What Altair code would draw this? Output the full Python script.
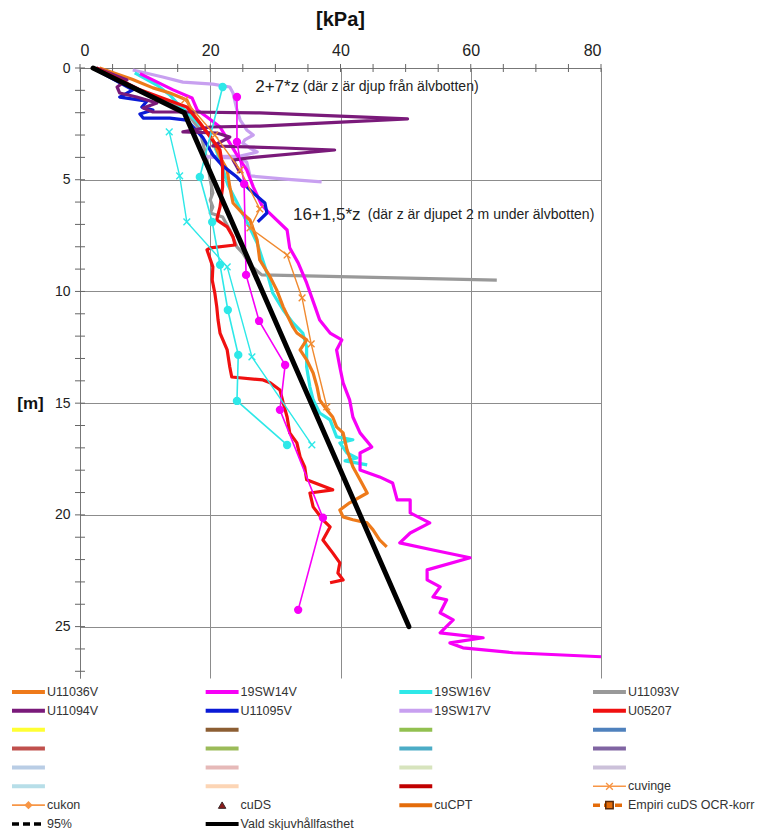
import altair as alt
import pandas as pd

NARROW = "Liberation Sans Narrow, Arial Narrow, Liberation Sans, Arial, sans-serif"
SANS = "Liberation Sans, Arial, sans-serif"

# ---------------------------------------------------------------
# Undrained shear strength profiles, cu [kPa] against depth z [m]
# ---------------------------------------------------------------
u11036v_cu = [3.0, 8.0, 11.2, 13.8, 16.4, 17.3, 18.9, 20.4, 21.5, 22.6, 23.0, 23.5, 24.9, 26.1,
              27.2, 27.6, 29.2, 30.2, 31.2, 32.7, 33.3, 34.8, 33.8, 34.8, 35.8, 36.4, 36.8, 37.9,
              38.8, 39.4, 40.4, 41.0, 41.9, 43.0, 44.1, 41.4, 39.9, 40.4, 41.9, 44.1, 45.0, 46.0, 47.1]
u11036v_z = [0.0, 0.5, 0.89, 1.12, 1.43, 2.01, 2.64, 3.22, 3.98, 4.56, 5.32, 6.04, 6.49, 6.80,
             7.70, 8.59, 9.35, 9.93, 10.69, 11.59, 11.86, 12.17, 12.62, 13.06, 13.65, 14.27, 14.85, 15.30,
             15.62, 16.06, 16.33, 17.09, 17.85, 18.43, 19.02, 19.46, 19.78, 20.09, 20.22, 20.36, 20.67, 21.12, 21.43]

sw14v_cu = [9.2, 14.3, 17.2, 18.0, 19.5, 21.5, 23.0, 24.6, 25.6, 26.6, 27.9, 28.9, 31.8, 32.2,
            33.5, 34.8, 36.1, 36.8, 38.4, 40.2, 39.4, 39.9, 40.4, 41.4, 41.9, 43.0, 44.8, 43.0,
            43.0, 46.0, 48.0, 48.7, 50.7, 50.7, 53.7, 50.7, 49.1, 54.2, 59.9, 53.3, 53.3, 55.3,
            54.2, 56.3, 55.3, 57.3, 55.3, 61.9, 56.8, 58.8, 66.5, 80.0]
sw14v_z = [0.25, 0.98, 1.34, 1.88, 2.19, 2.64, 3.36, 4.12, 4.56, 5.32, 6.13, 6.44, 7.25, 8.05,
           8.72, 9.62, 10.69, 11.28, 11.86, 12.17, 12.62, 13.38, 14.09, 14.85, 15.62, 16.33, 16.96, 17.23,
           17.99, 18.30, 18.57, 19.33, 19.33, 19.91, 20.36, 20.81, 21.25, 21.57, 21.92, 22.46, 22.91, 23.22,
           23.67, 23.80, 24.38, 24.70, 25.28, 25.50, 25.73, 25.95, 26.17, 26.35]

sw16v_cu = [8.4, 11.8, 13.8, 14.9, 17.7, 20.0, 21.5, 22.7, 24.3, 26.1, 27.2, 28.9, 29.6, 31.2,
            32.7, 34.2, 34.8, 34.8, 35.3, 35.8, 36.8, 38.4, 39.4, 41.9, 39.9, 41.0, 42.5, 40.7, 44.1]
sw16v_z = [0.22, 0.76, 1.21, 1.57, 2.33, 3.00, 4.12, 5.23, 6.13, 7.16, 7.83, 9.35, 10.07, 10.83,
           11.41, 11.86, 12.48, 13.38, 14.27, 14.85, 15.44, 15.75, 16.51, 16.64, 16.78, 17.23, 17.45, 17.58, 17.76]

u11093v_cu = [2.3, 9.2, 16.1, 18.4, 19.5, 20.0, 20.4, 20.0, 20.4, 20.0, 21.9, 23.0, 24.1, 25.0, 26.1, 27.9, 64.0]
u11093v_z = [0.0, 0.98, 1.88, 2.77, 4.12, 5.01, 5.59, 5.91, 6.22, 6.49, 6.67, 7.25, 8.01, 8.28, 8.81, 9.26, 9.49]

u11094v_cu = [2.5, 7.2, 5.7, 6.1, 8.7, 11.8, 9.7, 11.2, 16.4, 27.6, 50.3, 27.6, 20.0, 15.8,
              21.0, 23.0, 20.4, 31.2, 39.1, 25.6, 23.5, 24.1, 24.6]
u11094v_z = [0.0, 0.54, 0.85, 1.12, 1.30, 1.57, 1.79, 1.97, 1.97, 2.01, 2.28, 2.60, 2.64, 2.86,
             2.91, 3.09, 3.49, 3.58, 3.67, 4.03, 4.12, 4.43, 4.70]

u11095v_cu = [2.0, 8.1, 6.1, 10.3, 9.5, 11.2, 9.2, 9.7, 13.8, 16.4, 18.9, 20.4, 21.9, 24.1, 25.0, 26.6, 28.4, 28.7, 27.3]
u11095v_z = [0.0, 0.98, 1.30, 1.48, 1.75, 1.88, 2.06, 2.24, 2.24, 2.33, 3.13, 3.89, 4.38, 4.88, 5.15, 5.59, 6.04, 6.49, 6.89]

sw17v_cu = [8.1, 12.7, 15.8, 20.4, 23.0, 23.5, 24.1, 24.6, 25.6, 26.6, 25.3, 25.0, 26.1, 27.2,
            24.6, 18.9, 24.6, 25.6, 26.1, 31.5, 37.1]
sw17v_z = [0.09, 0.40, 0.63, 0.72, 0.85, 1.12, 1.88, 2.33, 2.77, 3.00, 3.22, 3.36, 3.58, 3.76,
           3.94, 3.98, 4.03, 4.21, 4.83, 4.97, 5.10]

u05207_cu = [2.5, 9.0, 16.4, 18.4, 20.0, 21.5, 21.9, 21.9, 21.5, 21.0, 22.6, 23.5, 23.8, 20.0, 19.5,
             20.4, 20.3, 20.7, 21.0, 21.2, 21.5, 22.6, 23.0, 23.3, 28.1, 29.2, 30.7, 31.2, 31.8, 32.2,
             33.3, 33.8, 34.5, 34.8, 38.8, 35.3, 35.8, 37.3, 38.4, 37.3, 38.8, 39.9, 39.6, 40.4, 38.4]
u05207_z = [0.0, 0.95, 1.75, 2.46, 3.09, 3.67, 4.43, 5.32, 6.22, 6.80, 7.11, 7.56, 7.92, 8.05, 8.14,
            8.90, 9.49, 10.07, 10.69, 11.28, 11.86, 12.62, 13.38, 13.83, 13.96, 14.09, 14.41, 14.99, 15.62, 16.33,
            16.78, 17.40, 17.85, 18.43, 18.88, 19.02, 19.64, 20.22, 20.54, 21.12, 21.70, 22.15, 22.60, 22.91, 23.04]

# point tests (cone and vane), drawn with thin lines and markers
sw16v_kon_cu = [21.9, 18.4, 20.3, 21.5, 22.7, 24.3, 24.1, 31.8]
sw16v_kon_z = [0.85, 4.88, 6.89, 8.81, 10.83, 12.84, 14.90, 16.87]

sw16v_vinge_cu = [13.7, 15.3, 16.4, 22.6, 26.4, 35.6]
sw16v_vinge_z = [2.86, 4.83, 6.89, 8.90, 12.93, 16.87]

sw14v_kon_cu = [24.1, 24.1, 25.2, 25.5, 27.5, 31.5, 30.7, 37.3, 33.5]
sw14v_kon_z = [1.30, 3.31, 5.19, 9.26, 11.32, 13.29, 15.30, 20.13, 24.25]

u11036v_vinge_cu = [16.1, 20.7, 24.6, 27.6, 26.1, 31.8, 34.1, 35.5, 37.9]
u11036v_vinge_z = [1.43, 3.00, 4.56, 6.31, 7.16, 8.37, 10.29, 12.35, 15.17]

# chosen design strength: 2+7*z down to 2 m, then 16+1,5*(z-2)
vald_cu = [2.0, 16.0, 50.5]
vald_z = [0.0, 2.0, 25.0]

# formula annotations
formula_text = ["2+7*z", "16+1,5*z"]
formula_cu = [26.9, 32.7]
formula_z = [0.85, 6.58]
note_text = ["(där z är djup från älvbotten)", "(där z är djupet 2 m under älvbotten)"]
note_cu = [34.2, 44.2]
note_z = [0.85, 6.58]

# axis ticks
x_major = [0, 20, 40, 60, 80]
x_minor = list(range(0, 81, 5))
y_major = [0, 5, 10, 15, 20, 25]
y_minor = list(range(0, 28))

# legend entries, row by row in four columns
leg_labels = ["U11036V", "19SW14V", "19SW16V", "U11093V",
              "U11094V", "U11095V", "19SW17V", "U05207",
              "", "", "", "",
              "", "", "", "",
              "", "", "", "",
              "", "", "", "cuvinge",
              "cukon", "cuDS", "cuCPT", "Empiri cuDS OCR-korr",
              "95%", "Vald skjuvhållfasthet"]
leg_colors = ["#EE7A1A", "#F700F7", "#2EE8E8", "#999999",
              "#7A1A7A", "#0A1AD6", "#C8A0F0", "#F01010",
              "#FFFF33", "#8C5E33", "#92C050", "#4F81BD",
              "#C0504D", "#9BBB59", "#4BACC6", "#8064A2",
              "#B9CDE5", "#E6B9B8", "#D7E4BD", "#CCC1DA",
              "#B7DEE8", "#FCD5B5", "#C00000", "#F79646",
              "#F79646", "#8B1A1A", "#E46C0A", "#E46C0A",
              "#000000", "#000000"]
leg_line = ["solid"] * 23 + ["thin", "thin", "none", "solid", "dash", "dash", "solid"]
leg_marker = [""] * 23 + ["x", "diamond", "triangle", "", "square", "", ""]

# ---------------------------------------------------------------
C_ORANGE = "#EE7A1A"
C_MAGENTA = "#F700F7"
C_CYAN = "#2EE8E8"

thick_series = [
    ("U11093V", u11093v_cu, u11093v_z, "#999999"),
    ("19SW17V", sw17v_cu, sw17v_z, "#C8A0F0"),
    ("19SW16V", sw16v_cu, sw16v_z, C_CYAN),
    ("U11036V", u11036v_cu, u11036v_z, C_ORANGE),
    ("19SW14V", sw14v_cu, sw14v_z, C_MAGENTA),
    ("U11095V", u11095v_cu, u11095v_z, "#0A1AD6"),
    ("U11094V", u11094v_cu, u11094v_z, "#7A1A7A"),
    ("U05207", u05207_cu, u05207_z, "#F01010"),
]
circle_series = [
    ("19SW16V kon", sw16v_kon_cu, sw16v_kon_z, C_CYAN),
    ("19SW14V kon", sw14v_kon_cu, sw14v_kon_z, C_MAGENTA),
]
cross_series = [
    ("19SW16V vinge", sw16v_vinge_cu, sw16v_vinge_z, C_CYAN),
    ("U11036V vinge", u11036v_vinge_cu, u11036v_vinge_z, "#F08A30"),
]


def profile_frame(items):
    rows = []
    for name, cu, z, color in items:
        for i, (c, d) in enumerate(zip(cu, z)):
            rows.append({"series": name, "i": i, "cu": c, "z": d, "color": color})
    return pd.DataFrame(rows)


x_scale = alt.Scale(domain=[0, 80], nice=False, zero=False)
y_scale = alt.Scale(domain=[0, 27.3], reverse=True, nice=False, zero=False)

x_axis = alt.Axis(orient="top", values=x_major, grid=True, ticks=False, domain=True,
                  labelFont=NARROW, labelFontSize=16, labelColor="#222", labelPadding=10,
                  title=None, gridColor="#8c8c8c", domainColor="#777")
y_axis = alt.Axis(orient="left", values=y_major, grid=True, ticks=False, domain=True,
                  labelFont=SANS, labelFontSize=14, labelColor="#222", labelPadding=10,
                  title="[m]", titleAngle=0, titleX=-50, titleY=335, titleAlign="center",
                  titleBaseline="middle", titleFont=SANS, titleFontSize=17, titleFontWeight="bold",
                  titleColor="#111", gridColor="#8c8c8c", domainColor="#777")


def xenc(field):
    return alt.X(f"{field}:Q", scale=x_scale, axis=x_axis)


def yenc(field):
    return alt.Y(f"{field}:Q", scale=y_scale, axis=y_axis)


# crossing tick marks along both axes
xt = alt.Chart(pd.DataFrame({"v": x_minor})).mark_rule(color="#666", strokeWidth=1).encode(
    x=xenc("v"), y=alt.value(-4), y2=alt.value(4))
yt = alt.Chart(pd.DataFrame({"v": y_minor})).mark_rule(color="#666", strokeWidth=1).encode(
    y=yenc("v"), x=alt.value(-5), x2=alt.value(5))

thick = alt.Chart(profile_frame(thick_series)).mark_line(strokeWidth=3.2, strokeJoin="round").encode(
    x=xenc("cu"), y=yenc("z"), detail="series:N", order="i:Q",
    color=alt.Color("color:N", scale=None))

circ_df = profile_frame(circle_series)
circ_line = alt.Chart(circ_df).mark_line(strokeWidth=1.6).encode(
    x=xenc("cu"), y=yenc("z"), detail="series:N", order="i:Q",
    color=alt.Color("color:N", scale=None))
circ_pts = alt.Chart(circ_df).mark_point(shape="circle", filled=True, size=70, opacity=1).encode(
    x=xenc("cu"), y=yenc("z"), color=alt.Color("color:N", scale=None))

cross_df = profile_frame(cross_series)
cross_line = alt.Chart(cross_df).mark_line(strokeWidth=1.4).encode(
    x=xenc("cu"), y=yenc("z"), detail="series:N", order="i:Q",
    color=alt.Color("color:N", scale=None))
cross_pts = alt.Chart(cross_df).mark_point(shape="M-1,-1L1,1M-1,1L1,-1", filled=False,
                                           size=45, strokeWidth=1.4, opacity=1).encode(
    x=xenc("cu"), y=yenc("z"), stroke=alt.Color("color:N", scale=None))

vald = alt.Chart(pd.DataFrame({"cu": vald_cu, "z": vald_z, "i": range(len(vald_cu))})).mark_line(
    color="#000000", strokeWidth=5, strokeCap="round").encode(
    x=xenc("cu"), y=yenc("z"), order="i:Q")

formulas = alt.Chart(pd.DataFrame({"t": formula_text, "cu": formula_cu, "z": formula_z})).mark_text(
    align="left", baseline="middle", font=SANS, fontSize=17, color="#222").encode(
    x=xenc("cu"), y=yenc("z"), text="t:N")
notes = alt.Chart(pd.DataFrame({"t": note_text, "cu": note_cu, "z": note_z})).mark_text(
    align="left", baseline="middle", font=SANS, fontSize=14, color="#222").encode(
    x=xenc("cu"), y=yenc("z"), text="t:N")

main = alt.layer(xt, yt, thick, circ_line, cross_line, circ_pts, cross_pts, vald, formulas, notes)

# ---------------------------------------------------------------
# legend below the plot, four columns
SW = 0.17  # swatch length in column units
idx = list(range(len(leg_labels)))
leg = pd.DataFrame({
    "label": leg_labels, "color": leg_colors, "line": leg_line, "marker": leg_marker,
    "col": [k % 4 for k in idx], "row": [k // 4 for k in idx],
})
leg["col_end"] = leg["col"] + SW
leg["col_mid"] = leg["col"] + SW / 2

lx_scale = alt.Scale(domain=[0, 3], range=[-68, 513], nice=False, zero=False)
ly_scale = alt.Scale(domain=[0, 7], range=[624, 756], nice=False, zero=False)
lbase = alt.Chart(leg)
lx = alt.X("col:Q", scale=lx_scale, axis=None)
lx2 = alt.X2("col_end:Q")
lxm = alt.X("col_mid:Q", scale=lx_scale, axis=None)
lxe = alt.X("col_end:Q", scale=lx_scale, axis=None)
ly = alt.Y("row:Q", scale=ly_scale, axis=None)
lcol = alt.Color("color:N", scale=None)

l_solid = lbase.transform_filter(alt.datum.line == "solid").mark_rule(strokeWidth=4).encode(
    x=lx, x2=lx2, y=ly, color=lcol)
l_thin = lbase.transform_filter(alt.datum.line == "thin").mark_rule(strokeWidth=1.6).encode(
    x=lx, x2=lx2, y=ly, color=lcol)
l_dash = lbase.transform_filter(alt.datum.line == "dash").mark_rule(
    strokeWidth=3.5, strokeDash=[7, 4]).encode(x=lx, x2=lx2, y=ly, color=lcol)
l_x = lbase.transform_filter(alt.datum.marker == "x").mark_point(
    shape="M-1,-1L1,1M-1,1L1,-1", filled=False, size=45, strokeWidth=1.4, opacity=1).encode(
    x=lxm, y=ly, stroke=lcol)
l_dia = lbase.transform_filter(alt.datum.marker == "diamond").mark_point(
    shape="diamond", filled=True, size=70, opacity=1).encode(x=lxm, y=ly, color=lcol)
l_tri = lbase.transform_filter(alt.datum.marker == "triangle").mark_point(
    shape="triangle-up", filled=True, size=55, opacity=1, stroke="#3a2a2a", strokeWidth=1).encode(
    x=lxm, y=ly, fill=lcol)
l_sq = lbase.transform_filter(alt.datum.marker == "square").mark_point(
    shape="square", filled=True, size=55, opacity=1, stroke="#5a2a0a", strokeWidth=1.5).encode(
    x=lxm, y=ly, fill=lcol)
l_text = lbase.transform_filter(alt.datum.label != "").mark_text(
    align="left", baseline="middle", dx=2, font=SANS, fontSize=12.5, color="#333").encode(
    x=lxe, y=ly, text="label:N")

legend = alt.layer(l_solid, l_thin, l_dash, l_x, l_dia, l_tri, l_sq, l_text)

chart = alt.layer(main, legend).resolve_scale(x="independent", y="independent").properties(
    width=521, height=610,
    padding={"left": 80, "top": 68, "right": 159, "bottom": 152},
    autosize=alt.AutoSizeParams(type="none"),
    title=alt.TitleParams("[kPa]", font=SANS, fontSize=20, fontWeight="bold", color="#111",
                          anchor="middle", frame="group", offset=12),
    background="white",
).configure_view(stroke=None)

chart.save("out.html", embed_options={"renderer": "svg", "actions": False})
